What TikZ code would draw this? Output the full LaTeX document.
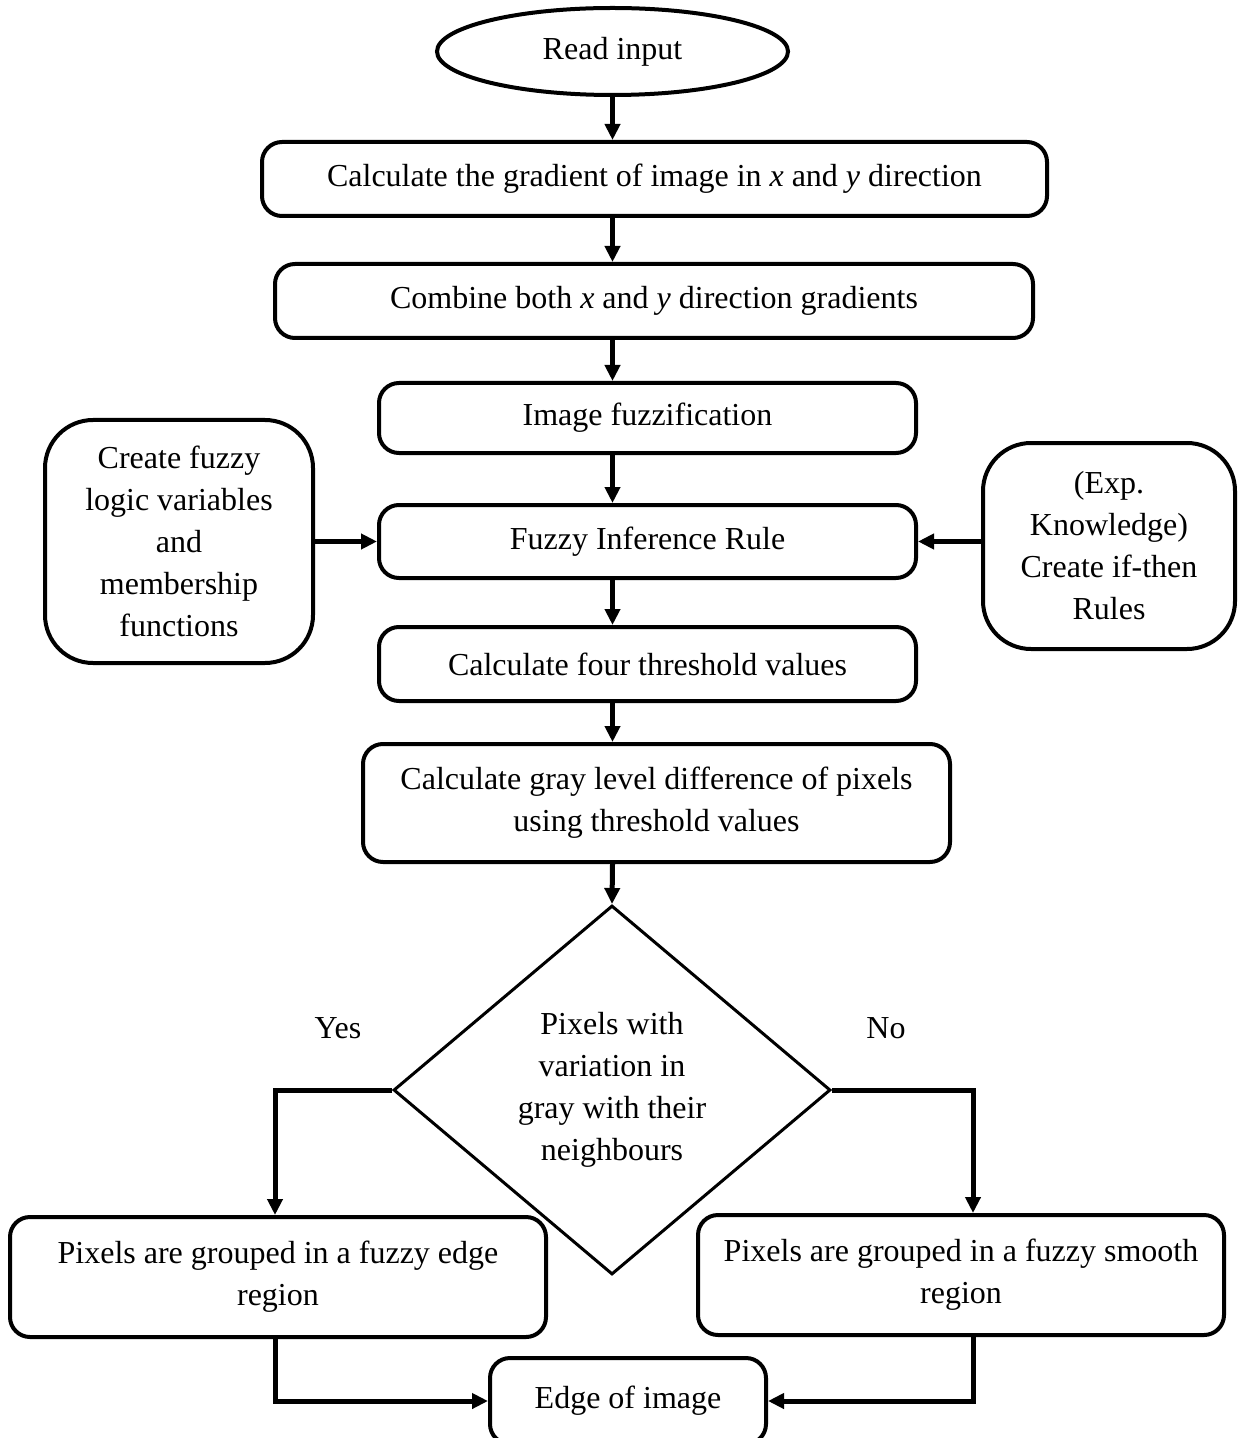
\documentclass[tikz,border=0pt]{standalone}
\usepackage{fontspec}
\setmainfont{Liberation Serif}
\usetikzlibrary{shapes.geometric,arrows.meta}

\begin{document}
\begin{tikzpicture}[x=0.5pt,y=-0.5pt,
  txt/.style={font=\fontsize{16}{21}\selectfont, align=center},
  box/.style={txt, draw, line width=2pt, rounded corners=10pt, inner sep=0pt},
  sidebox/.style={box, rounded corners=24pt},
  flow/.style={line width=2.5pt, -{Triangle[length=8pt,width=7.5pt]}},
]
\useasboundingbox (0,0) rectangle (1239,1438);

% main column
\node[txt, draw, line width=2pt, ellipse, inner sep=0pt,
      minimum width=175.5pt, minimum height=43.5pt] (read) at (612.5,51.5) {Read input};
\node[box, minimum width=392.5pt, minimum height=37pt] (grad) at (654.5,179)
  {Calculate the gradient of image in \textit{x} and \textit{y} direction};
\node[box, minimum width=379pt, minimum height=37pt] (comb) at (654,301)
  {Combine both \textit{x} and \textit{y} direction gradients};
\node[box, minimum width=268.5pt, minimum height=35pt] (fuzz) at (647.5,418)
  {Image fuzzification};
\node[box, minimum width=268.5pt, minimum height=36.5pt] (rule) at (647.5,541.5)
  {Fuzzy Inference Rule};
\node[box, minimum width=268.5pt, minimum height=37pt] (thr) at (647.5,664)
  {Calculate four threshold values};
\node[box, minimum width=293.5pt, minimum height=59pt] (gray) at (656.5,803)
  {Calculate gray level difference of pixels\\using threshold values};

% side inputs
\node[sidebox, minimum width=134pt, minimum height=121.5pt] (vars) at (179,541.5)
  {Create fuzzy\\logic variables\\and\\membership\\functions};
\node[sidebox, minimum width=126pt, minimum height=103pt] (know) at (1109,546)
  {(Exp.\\Knowledge)\\Create if-then\\Rules};

% decision
\node[txt, draw, line width=1.5pt, diamond, inner sep=0pt,
      minimum width=218.5pt, minimum height=184.5pt] (dec) at (612,1090)
  {Pixels with\\variation in\\gray with their\\neighbours};
\node[txt] (yes) at (338,1028) {Yes};
\node[txt] (no) at (886,1028) {No};

% outcomes
\node[box, minimum width=268pt, minimum height=60pt] (edge) at (278,1277)
  {Pixels are grouped in a fuzzy edge\\region};
\node[box, minimum width=263pt, minimum height=60pt] (smooth) at (961,1275)
  {Pixels are grouped in a fuzzy smooth\\region};
\node[box, minimum width=138pt, minimum height=43pt] (out) at (628,1401)
  {Edge of image};

% bend columns of the two branches
\coordinate (lc) at (275,1215);
\coordinate (rc) at (973,1215);

% connectors
\draw[flow] (read.south) -- (read.south |- grad.north);
\draw[flow] (read.south |- grad.south) -- (read.south |- comb.north);
\draw[flow] (read.south |- comb.south) -- (read.south |- fuzz.north);
\draw[flow] (read.south |- fuzz.south) -- (read.south |- rule.north);
\draw[flow] (read.south |- rule.south) -- (read.south |- thr.north);
\draw[flow] (read.south |- thr.south) -- (read.south |- gray.north);
\draw[flow] (read.south |- gray.south) -- (dec.north);
\draw[flow] (vars.east |- rule.west) -- (rule.west);
\draw[flow] (know.west |- rule.east) -- (rule.east);
\draw[flow] (dec.west) -| (lc |- edge.north);
\draw[flow] (dec.east) -| (rc |- smooth.north);
\draw[flow] (lc |- edge.south) |- (out.west);
\draw[flow] (rc |- smooth.south) |- (out.east);
\end{tikzpicture}
\end{document}
